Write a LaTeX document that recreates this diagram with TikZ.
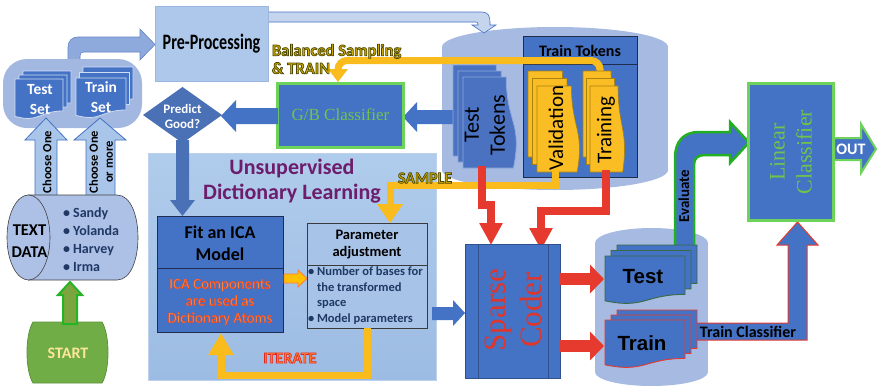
\documentclass[tikz,border=0pt]{standalone}
\usepackage{fontspec}
\setmainfont{Carlito}
\newfontfamily\serifc{Liberation Serif}
\newfontfamily\arialb{Liberation Sans}
\usetikzlibrary{arrows.meta,calc}
\definecolor{mblue}{HTML}{4472C4}
\definecolor{lblue}{HTML}{A6BAE2}
\definecolor{uTop}{HTML}{B0CCEC}
\definecolor{uBot}{HTML}{9DBCE3}
\definecolor{uEdge}{HTML}{BDD0EC}
\definecolor{ppFill}{HTML}{ADC8EA}
\definecolor{ppEdge}{HTML}{9BB7E0}
\definecolor{bandFill}{HTML}{C5D5EE}
\definecolor{curveFill}{HTML}{8EA9DB}
\definecolor{curveEdge}{HTML}{6485C9}
\definecolor{chooseFill}{HTML}{A9C6EA}
\definecolor{tdFill}{HTML}{ADC1E7}
\definecolor{tdEdge}{HTML}{404040}
\definecolor{grpFill}{HTML}{A3B8E1}
\definecolor{dmBlue}{HTML}{4A70B6}
\definecolor{gBorder}{HTML}{6DD35A}
\definecolor{gText}{HTML}{6EC44C}
\definecolor{yel}{HTML}{FABB1C}
\definecolor{goldc}{HTML}{CDAA00}
\definecolor{redc}{HTML}{E63A2E}
\definecolor{scRed}{HTML}{E0352B}
\definecolor{purp}{HTML}{6D1D6B}
\definecolor{icaOr}{HTML}{FF9444}
\definecolor{iterOr}{HTML}{FF7A3A}
\definecolor{dblue}{HTML}{1F3864}
\definecolor{startG}{HTML}{70AD47}
\definecolor{startEdge}{HTML}{5D9239}
\definecolor{startTxt}{HTML}{FFE699}
\definecolor{grnArrowFill}{HTML}{7CA43F}
\definecolor{grnArrowEdge}{HTML}{25B425}
\definecolor{evalEdge}{HTML}{22B022}
\definecolor{tGreen}{HTML}{3B6B43}
\definecolor{tkEdge}{HTML}{1F2D4D}
\definecolor{fEdge}{HTML}{1F2E50}
\definecolor{pEdge}{HTML}{3A3A3A}
\definecolor{pFill}{HTML}{A7C4E8}
\definecolor{tokFill}{HTML}{4A72C0}
\definecolor{tokEdge}{HTML}{8EA8DA}
\definecolor{valFill}{HTML}{FBBD24}
\definecolor{valEdge}{HTML}{A98210}
\definecolor{setEdge}{HTML}{D0DCF2}
\definecolor{scEdge}{HTML}{2F528F}
\definecolor{orArrow}{HTML}{FFC000}
\newcommand{\fs}[2]{\fontsize{#1}{#2}\selectfont}
% outlined text: stroke colour (r g b), stroke width, text
\newcommand{\outl}[3]{\special{pdf:code 2 Tr #2 w #1 RG}#3\special{pdf:code 0 Tr}}
% document shape, wave at bottom: x y w h style
\newcommand{\docB}[5]{\path[#5] ({#1},{#2}) -- ({#1+#3},{#2}) -- ({#1+#3},{#2+0.80*#4}) .. controls ({#1+0.5*#3},{#2+0.80*#4}) and ({#1+0.5*#3},{#2+1.107*#4}) .. ({#1},{#2+0.934*#4}) -- cycle;}
% document shape, wave at right
\newcommand{\docR}[5]{\path[#5] ({#1},{#2}) -- ({#1+0.80*#3},{#2}) .. controls ({#1+0.80*#3},{#2+0.5*#4}) and ({#1+1.107*#3},{#2+0.5*#4}) .. ({#1+0.934*#3},{#2+#4}) -- ({#1},{#2+#4}) -- cycle;}
\newcommand{\stackB}[7]{\docB{#1+2*(#5)}{#2-2*(#6)}{#3}{#4}{#7}\docB{#1+(#5)}{#2-(#6)}{#3}{#4}{#7}\docB{#1}{#2}{#3}{#4}{#7}}
\newcommand{\stackR}[7]{\docR{#1+2*(#5)}{#2-2*(#6)}{#3}{#4}{#7}\docR{#1+(#5)}{#2-(#6)}{#3}{#4}{#7}\docR{#1}{#2}{#3}{#4}{#7}}
\tikzset{
  yline/.style={draw=yel, line width=7pt},
  rline/.style={draw=redc, line width=8pt},
  bluearrow/.style={fill=mblue, draw=none},
}
\begin{document}
\begin{tikzpicture}[x=1pt,y=-1pt, every node/.style={inner sep=0pt,outer sep=0pt,align=center}]
\useasboundingbox (0,0) rectangle (879,386);
\fill[white] (0,0) rectangle (879,386);

% ---------- Unsupervised dictionary learning panel
\path[top color=uTop,bottom color=uBot,draw=uEdge,line width=0.8pt] (148,153) rectangle (436,380);
\node[text=purp,font=\fs{22}{25}\bfseries] (udl) at (292,181) {Unsupervised\\Dictionary Learning};

% ---------- big token cylinder
\fill[lblue] (442,47) rectangle (668,170);
\fill[lblue] (555,47) ellipse [x radius=113pt,y radius=20pt];
\fill[lblue] (555,170) ellipse [x radius=113pt,y radius=20pt];

% ---------- output cylinder
\fill[lblue] (595,243) rectangle (708,372);
\fill[lblue] (651.5,243) ellipse [x radius=56.5pt,y radius=15pt];
\fill[lblue] (651.5,372) ellipse [x radius=56.5pt,y radius=14pt];

% ---------- Test Tokens -> G/B arrow (behind stack)
\path[bluearrow] (462,110) -- (417,110) -- (417,102) -- (403,117) -- (417,132) -- (417,124) -- (462,124) -- cycle;

% ---------- Train Tokens box
\node[draw=tkEdge,fill=mblue,line width=0.8pt,minimum width=114pt,minimum height=141pt] (tt) at (580,106.5) {};
\draw[tkEdge,line width=0.8pt] (523,64) -- (637,64);
\node[font=\fs{16}{16}\bfseries] (tttitle) at (580,51) {Train Tokens};

% ---------- yellow: Training -> G/B classifier
\draw[yline, rounded corners=9pt, -{Triangle[width=19pt,length=13pt]}] (600,80) -- (600,60.5) -- (338,60.5) -- (338,82);

% ---------- token stacks
\stackR{463}{77}{54}{91}{-5}{6}{fill=tokFill,draw=tokEdge,line width=0.8pt}
\node[rotate=90,font=\fs{22}{26}] (testtok) at (485,125) {Test\\Tokens};
\stackR{537}{86}{43}{86}{-4.5}{7.5}{fill=valFill,draw=valEdge,line width=0.6pt}
\node[rotate=90,font=\fs{21}{21}] (valid) at (556,128) {Validation};
\stackR{590}{86}{35}{86}{-3.5}{7.5}{fill=valFill,draw=valEdge,line width=0.6pt}
\node[rotate=90,font=\fs{21}{21}] (train) at (606,130) {Training};

% ---------- yellow: Validation -> Parameter adjustment
\draw[yline, -{Triangle[width=25pt,length=19pt]}] (555,170) -- (555,185) -- (390,185) -- (390,223);
\node[text=goldc,font=\fs{16}{16}\bfseries] (samp) at (425,178) {\outl{0.3 0.28 0}{0.7}{SAMPLE}};

% ---------- red arrows into sparse coder
\draw[rline, -{Triangle[width=22pt,length=22pt]}] (482,166) -- (482,205) -- (491,205) -- (491,245);
\draw[rline, -{Triangle[width=22pt,length=22pt]}] (606,170) -- (606,211) -- (541,211) -- (541,250);

% ---------- Sparse coder
\node[draw=scEdge,fill=mblue,line width=0.8pt,minimum width=95pt,minimum height=134pt] (sc) at (512.5,311) {};
\draw[scEdge,line width=0.8pt] (478,244) -- (478,378) (548,244) -- (548,378);
\node[rotate=90,text=scRed,font=\serifc\fs{31}{36}] (sctext) at (513,310) {Sparse\\Coder};

% ---------- Unsupervised -> Sparse coder
\path[bluearrow] (432,307) -- (453,307) -- (453,300) -- (465,313) -- (453,326) -- (453,320) -- (432,320) -- cycle;

% ---------- red arrows out of sparse coder
\draw[redc, line width=12pt, -{Triangle[width=28pt,length=14pt]}] (560,279) -- (604,279);
\draw[redc, line width=12pt, -{Triangle[width=28pt,length=14pt]}] (560,346) -- (604,346);

% ---------- Evaluate arrow
\path[fill=mblue,draw=evalEdge,line width=2.5pt,line join=miter] (675,250) -- (675,158) .. controls (675,142) and (683,132) .. (699,132) -- (730,132) -- (730,122) -- (749,142.5) -- (730,163) -- (730,155) -- (705,155) .. controls (698,155) and (694,158) .. (694,165) -- (694,250) -- cycle;
\node[rotate=90,font=\fs{15}{15}\bfseries] (evlbl) at (684,196) {Evaluate};

% ---------- Train classifier arrow
\path[fill=mblue,draw=redc,line width=1pt] (690,323) -- (788,323) -- (788,245) -- (777,245) -- (797.5,222) -- (818,245) -- (807,245) -- (807,340) -- (690,340) -- cycle;

% ---------- output stacks
\stackB{605}{256}{80}{48}{6}{5.5}{fill=mblue,draw=tGreen,line width=0.9pt}
\node[font=\arialb\bfseries\fs{20.5}{20.5}] (outtest) at (643,277) {Test};
\stackB{605}{320}{80}{48}{6}{5}{fill=mblue,draw=redc,line width=0.9pt}
\node[font=\arialb\bfseries\fs{20.5}{20.5}] (outtrain) at (642,343) {Train};
\node[font=\fs{16}{16}\bfseries] (tclbl) at (748,332) {Train Classifier};

% ---------- Linear classifier
\node[draw=gBorder,line width=3pt,fill=mblue,minimum width=85pt,minimum height=137pt] (lc) at (790.5,151.5) {};
\node[rotate=90,text=gText,font=\serifc\fs{22}{27}] (lctext) at (791,152) {Linear\\Classifier};
\path[fill=mblue,draw=gBorder,line width=2pt] (834,138) -- (861,138) -- (861,124) -- (876,149) -- (861,173) -- (861,160) -- (834,160) -- cycle;
\node[text=white,font=\fs{16}{16}\bfseries] (outlbl) at (851,149) {OUT};

% ---------- G/B classifier
\node[draw=gBorder,line width=3pt,fill=mblue,minimum width=126pt,minimum height=64pt,text=gText,font=\serifc\fs{17}{17}] (gb) at (340.5,115) {G/B Classifier};
\node[text=goldc,anchor=west,align=left,font=\fs{16.5}{18}\bfseries] (bal) at (272,59) {\outl{0.3 0.28 0}{0.7}{Balanced Sampling}\\\outl{0.3 0.28 0}{0.7}{\& TRAIN}};

% ---------- G/B -> diamond
\path[bluearrow] (278,108) -- (236,108) -- (236,100) -- (221,116) -- (236,132) -- (236,124) -- (278,124) -- cycle;

% ---------- diamond
\fill[dmBlue] (143,115) -- (182.5,87) -- (222,115) -- (182.5,143) -- cycle;
\node[text=white,font=\fs{13}{15}\bfseries] (pred) at (182.5,116) {Predict\\Good?};

% ---------- diamond -> Fit ICA
\path[fill=dmBlue] (176,140) -- (176,200) -- (170,200) -- (182.5,216) -- (195,200) -- (189,200) -- (189,140) -- cycle;

% ---------- Fit ICA
\node[draw=fEdge,fill=mblue,line width=0.8pt,minimum width=126pt,minimum height=116pt] (fit) at (220,274) {};
\draw[fEdge,line width=0.8pt] (157,268) -- (283,268);
\node[font=\fs{18}{22}\bfseries] (fittxt) at (220,243) {Fit an ICA\\Model};
\node[text=icaOr,font=\fs{15}{17}] (icatxt) at (220,302) {\outl{0.95 0.25 0.12}{0.4}{ICA Components}\\\outl{0.95 0.25 0.12}{0.4}{are used as}\\\outl{0.95 0.25 0.12}{0.4}{Dictionary Atoms}};

% ---------- small orange arrow
\path[fill=orArrow,draw=iterOr,line width=0.8pt] (284,274) -- (298,274) -- (298,270) -- (307,278.5) -- (298,287) -- (298,283) -- (284,283) -- cycle;

% ---------- Parameter adjustment
\node[draw=pEdge,fill=pFill,line width=0.7pt,minimum width=120pt,minimum height=105pt] (param) at (367,275.5) {};
\draw[pEdge,line width=0.7pt] (307,265) -- (427,265);
\node[font=\fs{14.5}{17}\bfseries] (ptitle) at (367,245) {Parameter\\adjustment};
\node[anchor=north west,align=left,text=dblue,font=\fs{12.5}{15.5}\bfseries] (pbul) at (308,267) {\textbullet\ Number of bases for\\\hphantom{\textbullet\ }the transformed\\\hphantom{\textbullet\ }space\\\textbullet\ Model parameters};

% ---------- ITERATE loop
\draw[yline, -{Triangle[width=24pt,length=22pt]}] (367,328) -- (367,375) -- (221,375) -- (221,333);
\node[text=iterOr,font=\fs{16}{16}\bfseries] (iter) at (290,358) {\outl{0.9 0.15 0.1}{0.6}{ITERATE}};

% ---------- Pre-processing
\path[fill=bandFill,draw=mblue,line width=0.6pt] (268,12) -- (482,12) .. controls (488,12) and (490,16) .. (490,22) -- (490,25) -- (496,25) -- (484,33) -- (472,25) -- (478,25) -- (478,24) .. controls (478,23) and (477,22) .. (476,22) -- (268,22) -- cycle;
\node[draw=ppEdge,fill=ppFill,line width=0.8pt,minimum width=113pt,minimum height=75pt] (pp) at (211.5,43.5) {\scalebox{0.73}[1]{\fs{22}{22}\bfseries Pre-Processing}};

% ---------- curved arrow sets -> pre-processing
\path[fill=curveFill,draw=curveEdge,line width=0.6pt] (68,66) -- (68,47) .. controls (68,41) and (72,37) .. (78,37) -- (140,37) -- (140,29) -- (155,44.5) -- (140,60) -- (140,52) -- (84,52) .. controls (81,52) and (80,53) .. (80,56) -- (80,66) -- cycle;

% ---------- sets group
\path[fill=grpFill,rounded corners=24pt] (3,59) rectangle (142,128);
\stackB{15}{79}{48}{40}{4}{4}{fill=mblue,draw=setEdge,line width=0.8pt}
\node[text=white,font=\fs{15.5}{20}\bfseries] (tset) at (40,100) {Test\\Set};
\stackB{76}{78}{50}{40}{3.5}{5.5}{fill=mblue,draw=setEdge,line width=0.8pt}
\node[text=white,font=\fs{15.5}{20}\bfseries] (trset) at (101,97) {Train\\Set};

% ---------- choose arrows
\path[fill=chooseFill,draw=mblue,line width=0.8pt] (35,200) -- (35,140) -- (25,140) -- (46,118) -- (67,140) -- (57,140) -- (57,200) -- cycle;
\path[fill=chooseFill,draw=mblue,line width=0.8pt] (86,200) -- (86,140) -- (74,140) -- (100,118) -- (126,140) -- (115,140) -- (115,200) -- cycle;
\node[rotate=90,font=\fs{12.5}{14}\bfseries] (ch1) at (47,162) {Choose One};
\node[rotate=90,font=\fs{12.5}{15}\bfseries] (ch2) at (101,162) {Choose One\\or more};

% ---------- text data cylinder
\path[fill=tdFill,draw=tdEdge,line width=0.6pt] (28.5,195) -- (117,195) .. controls (145,195) and (145,280) .. (117,280) -- (28.5,280) -- cycle;
\path[fill=tdFill,draw=tdEdge,line width=0.6pt] (28.5,237.5) ellipse [x radius=21.5pt,y radius=42.5pt];
\node[font=\fs{16.5}{22}\bfseries] (tdata) at (29.5,241) {TEXT\\DATA};
\node[anchor=west,align=left,text=dblue,font=\fs{14}{18}\bfseries] (names) at (63,240) {\textbullet\ Sandy\\\textbullet\ Yolanda\\\textbullet\ Harvey\\\textbullet\ Irma};

% ---------- START
\path[fill=startG,draw=startEdge,line width=0.8pt] (33,322) -- (102,322) .. controls (110,335) and (110,370) .. (102,383) -- (33,383) .. controls (25,370) and (25,335) .. (33,322) -- cycle;
\node[text=startTxt,font=\fs{16}{16}\bfseries] (start) at (68,353) {START};
\path[fill=grnArrowFill,draw=grnArrowEdge,line width=2pt] (63,324) -- (63,295) -- (58,295) -- (70,282) -- (82,295) -- (77,295) -- (77,324) -- cycle;
\end{tikzpicture}
\end{document}
